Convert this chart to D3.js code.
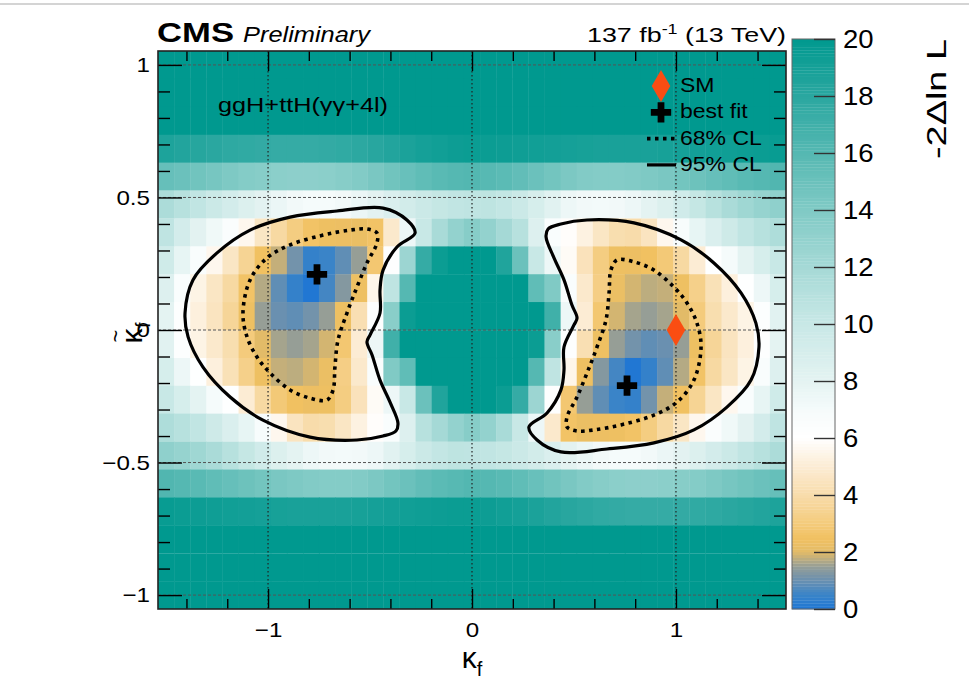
<!DOCTYPE html>
<html>
<head>
<meta charset="utf-8">
<script src="https://cdn.jsdelivr.net/npm/d3@7"></script>
<style>
  body { margin: 0; background: #fff; }
  text { font-family: "Liberation Sans", Arial, Helvetica, sans-serif; fill: #000; }
</style>
</head>
<body>
<div id="g-container"></div>
<script>
// scan grid: kappa_f (columns) and kappa_f tilde (rows, top to bottom)
var kappaF = [-1.5, -1.421, -1.342, -1.263, -1.184, -1.105, -1.026, -0.947, -0.868, -0.789,
  -0.711, -0.632, -0.553, -0.474, -0.395, -0.316, -0.237, -0.158, -0.079, 0,
  0.079, 0.158, 0.237, 0.316, 0.395, 0.474, 0.553, 0.632, 0.711, 0.789,
  0.868, 0.947, 1.026, 1.105, 1.184, 1.263, 1.342, 1.421, 1.5];
var kappaFt = [1, 0.895, 0.789, 0.684, 0.579, 0.474, 0.368, 0.263, 0.158, 0.053,
  -0.053, -0.158, -0.263, -0.368, -0.474, -0.579, -0.684, -0.789, -0.895, -1];

// -2 Delta ln L, one row per kappaFt value
var nll = [
  [26,25.5,25,24.8,24.6,24.5,24.4,24.4,24.5,24.6,24.8,25,25.3,25.6,26,26.3,26.6,26.8,27,27.1,27.7,27.7,27.6,27.5,27.4,27.3,27.2,27.1,27,26.9,26.8,26.7,26.7,26.8,26.9,27,27.1,27.3,27.5],
  [23,22.6,22.3,22,21.8,21.6,21.5,21.5,21.6,21.7,21.9,22.1,22.4,22.7,23,23.3,23.6,23.8,24,24.1,24.6,24.6,24.5,24.4,24.3,24.2,24.1,24,23.9,23.8,23.7,23.7,23.7,23.8,23.9,24,24.1,24.3,24.5],
  [21.2,21,20.9,20.8,20.7,20.6,20.5,20.5,20.6,20.7,20.8,20.9,21.1,21.3,21.5,21.7,21.8,21.9,22,21.9,22,22,21.9,21.8,21.7,21.6,21.5,21.4,21.3,21.2,21.2,21.2,21.2,21.3,21.4,21.5,21.6,21.8,22],
  [18.6,18.4,18.2,18,17.8,17.7,17.6,17.5,17.5,17.5,17.6,17.7,17.9,18.1,18.4,18.7,19,19.2,19.4,19.5,19.5,19.4,19.3,19.2,19.1,19,18.9,18.8,18.8,18.8,18.8,18.9,19,19.1,19.2,19.3,19.4,19.5,19.6],
  [15.2,15,14.7,14.4,14.1,13.8,13.6,13.4,13.3,13.3,13.4,13.6,13.9,14.3,14.7,15.1,15.5,15.8,16,16.1,15.9,15.7,15.4,15,14.6,14.2,13.9,13.8,13.8,13.9,14.1,14.3,14.6,14.9,15.2,15.5,15.8,16,16.2],
  [11.6,11,10.4,9.8,9.2,8.6,8.1,7.6,7.2,7,7,7.2,7.6,8.1,8.7,9.3,9.8,10.2,10.4,10.5,10.6,10.3,9.8,9,8.2,7.5,7.2,7.1,7.2,7.5,8,8.6,9.4,10.2,11,11.7,12.3,12.8,13.2],
  [10.5,9.2,8.1,7.3,6.5,5.6,4.6,3.8,3.1,2.6,2.4,2.35,2.3,2.6,4.8,7.5,10,11.8,13,13.6,13,12,11,8.5,6.6,5.9,5.3,4.6,4.1,4,4.5,5.6,6.8,7.8,8.7,9.6,10.4,11,11.5],
  [9.5,7.8,6.6,5.6,4.6,3.5,2.5,1.8,1.1,0.4,0.5,0.9,1.5,2.8,6.2,12.5,17.5,19.5,21,21.5,21,18.5,15,10,7.5,5.8,4.4,3.1,2.4,2.35,2.5,2.9,3.8,5,6.1,7,8,9,10],
  [8.5,6.6,5.4,4.6,3.8,2.6,1.7,0.9,0.4,0.05,0.6,1.3,2.4,5.5,10.5,16,20,21.5,23,23.5,23.5,22.5,20.5,15.5,14,6.6,4.8,3.2,2.3,1.9,1.75,1.8,2.4,3.3,4.3,5.2,6.1,7.5,9],
  [8,6.2,5.2,4.5,3.6,2.4,1.5,1,0.9,1.1,1.5,2.4,4.2,6.2,13.5,19.5,22,23.5,24.5,25,25,24.5,23.5,21,17,7.5,5,2.8,1.9,1.6,1.5,1.6,2,3,4.1,4.8,5.4,6.3,8.2],
  [8.2,6.3,5.4,4.8,4.1,3,2,1.6,1.5,1.6,1.9,2.8,5,7.5,17,21,23.5,24.5,25,25,24.5,23.5,22,19.5,13.5,6.2,4.2,2.4,1.5,1.1,0.9,1,1.5,2.4,3.6,4.5,5.2,6.2,8],
  [9,7.5,6.1,5.2,4.3,3.3,2.4,1.8,1.75,1.9,2.3,3.2,4.8,6.6,14,15.5,20.5,22.5,23.5,23.5,23,21.5,20,16,10.5,5.5,2.4,1.3,0.6,0.05,0.4,0.9,1.7,2.6,3.8,4.6,5.4,6.6,8.5],
  [10,9,8,7,6.1,5,3.8,2.9,2.5,2.35,2.4,3.1,4.4,5.8,7.5,10,15,18.5,21,21.5,21,19.5,17.5,12.5,6.2,2.8,1.5,0.9,0.5,0.4,1.1,1.8,2.5,3.5,4.6,5.6,6.6,7.8,9.5],
  [11.5,11,10.4,9.6,8.7,7.8,6.8,5.6,4.5,4,4.1,4.6,5.3,5.9,6.6,8.5,11,12,13,13.6,13,11.8,10,7.5,4.8,2.6,2.3,2.35,2.4,2.6,3.1,3.8,4.6,5.6,6.5,7.3,8.1,9.2,10.5],
  [13.2,12.8,12.3,11.7,11,10.2,9.4,8.6,8,7.5,7.2,7.1,7.2,7.5,8.2,9,9.8,10.3,10.6,10.5,10.4,10.2,9.8,9.3,8.7,8.1,7.6,7.2,7,7,7.2,7.6,8.1,8.6,9.2,9.8,10.4,11,11.6],
  [16.2,16,15.8,15.5,15.2,14.9,14.6,14.3,14.1,13.9,13.8,13.8,13.9,14.2,14.6,15,15.4,15.7,15.9,16.1,16,15.8,15.5,15.1,14.7,14.3,13.9,13.6,13.4,13.3,13.3,13.4,13.6,13.8,14.1,14.4,14.7,15,15.2],
  [19.6,19.5,19.4,19.3,19.2,19.1,19,18.9,18.8,18.8,18.8,18.8,18.9,19,19.1,19.2,19.3,19.4,19.5,19.5,19.4,19.2,19,18.7,18.4,18.1,17.9,17.7,17.6,17.5,17.5,17.5,17.6,17.7,17.8,18,18.2,18.4,18.6],
  [22,21.8,21.6,21.5,21.4,21.3,21.2,21.2,21.2,21.2,21.3,21.4,21.5,21.6,21.7,21.8,21.9,22,22,21.9,22,21.9,21.8,21.7,21.5,21.3,21.1,20.9,20.8,20.7,20.6,20.5,20.5,20.6,20.7,20.8,20.9,21,21.2],
  [24.5,24.3,24.1,24,23.9,23.8,23.7,23.7,23.7,23.8,23.9,24,24.1,24.2,24.3,24.4,24.5,24.6,24.6,24.1,24,23.8,23.6,23.3,23,22.7,22.4,22.1,21.9,21.7,21.6,21.5,21.5,21.6,21.8,22,22.3,22.6,23],
  [27.5,27.3,27.1,27,26.9,26.8,26.7,26.7,26.8,26.9,27,27.1,27.2,27.3,27.4,27.5,27.6,27.7,27.7,27.1,27,26.8,26.6,26.3,26,25.6,25.3,25,24.8,24.6,24.5,24.4,24.4,24.5,24.6,24.8,25,25.5,26]
];

// contours, [kappa_f, kappa_f tilde]
var cl95Left = [[-0.279,0.366],[-0.368,0.313],[-0.436,0.226],[-0.451,0.151],[-0.451,0.064],[-0.5,-0.019],
  [-0.515,-0.045],[-0.49,-0.094],[-0.451,-0.189],[-0.402,-0.272],[-0.363,-0.351],[-0.373,-0.381],
  [-0.436,-0.4],[-0.564,-0.415],[-0.794,-0.404],[-1.025,-0.34],[-1.186,-0.253],[-1.319,-0.14],
  [-1.392,-0.026],[-1.407,0.064],[-1.368,0.189],[-1.25,0.291],[-1.088,0.377],[-0.892,0.426],
  [-0.662,0.449],[-0.436,0.46],[-0.319,0.415]];
var cl95Right = [[0.279,-0.366],[0.368,-0.313],[0.436,-0.226],[0.451,-0.151],[0.451,-0.064],[0.5,0.019],
  [0.515,0.045],[0.49,0.094],[0.451,0.189],[0.402,0.272],[0.363,0.351],[0.373,0.381],
  [0.436,0.4],[0.564,0.415],[0.794,0.404],[1.025,0.34],[1.186,0.253],[1.319,0.14],
  [1.392,0.026],[1.407,-0.064],[1.368,-0.189],[1.25,-0.291],[1.088,-0.377],[0.892,-0.426],
  [0.662,-0.449],[0.436,-0.46],[0.319,-0.415]];
var cl68Left = [[-0.598,0.377],[-0.73,0.358],[-0.892,0.321],[-1.005,0.272],[-1.088,0.189],[-1.123,0.064],
  [-1.103,-0.026],[-1.054,-0.102],[-0.99,-0.162],[-0.892,-0.226],[-0.794,-0.257],[-0.711,-0.264],
  [-0.681,-0.226],[-0.672,-0.14],[-0.657,-0.038],[-0.613,0.064],[-0.564,0.162],[-0.515,0.253],
  [-0.466,0.328],[-0.466,0.366],[-0.515,0.381]];
var cl68Right = [[0.598,-0.377],[0.73,-0.358],[0.892,-0.321],[1.005,-0.272],[1.088,-0.189],[1.123,-0.064],
  [1.103,0.026],[1.054,0.102],[0.99,0.162],[0.892,0.226],[0.794,0.257],[0.711,0.264],
  [0.681,0.226],[0.672,0.14],[0.657,0.038],[0.613,-0.064],[0.564,-0.162],[0.515,-0.253],
  [0.466,-0.328],[0.466,-0.366],[0.515,-0.381]];
var bestFit = [[-0.76, 0.21], [0.76, -0.21]];
var smPoint = [1, 0];

// axis ticks
var xTicksMajor = [-1, 0, 1];
var xTicksMinor = [-1.4, -1.2, -0.8, -0.6, -0.4, -0.2, 0.2, 0.4, 0.6, 0.8, 1.2, 1.4];
var yTicksMajor = [-1, -0.5, 0, 0.5, 1];
var yTicksMinor = [-0.9, -0.8, -0.7, -0.6, -0.4, -0.3, -0.2, -0.1, 0.1, 0.2, 0.3, 0.4, 0.6, 0.7, 0.8, 0.9];
var zTicks = [0, 2, 4, 6, 8, 10, 12, 14, 16, 18, 20];
var legendLabels = ["SM", "best fit", "68% CL", "95% CL"];

// colour palette (blue - grey - gold - white - teal)
var palStops = [0, 0.5, 1, 1.5, 2, 2.5, 3, 4, 5, 6, 7, 8, 10, 12, 14, 16, 18, 20];
var palColors = ["#1e76d4", "#3a84c8", "#6a90b0", "#969e96", "#e2bb68", "#f1c161", "#f4cb7c", "#f8dcab",
  "#fcecd4", "#ffffff", "#f5fbfb", "#e4f3f2", "#c8e8e6", "#a5d9d6", "#80cac5", "#55b8b2", "#2aa7a0", "#00998f"];

var W = 969, H = 695;
var frame = {left: 158, right: 786, top: 51, bottom: 609};
var svg = d3.select("#g-container").append("svg").attr("width", W).attr("height", H);

var dx = kappaF[1] - kappaF[0];
var dy = kappaFt[0] - kappaFt[1];
var x = d3.scaleLinear().domain([kappaF[0] - dx / 2, kappaF[kappaF.length - 1] + dx / 2]).range([frame.left, frame.right]);
var y = d3.scaleLinear().domain([kappaFt[kappaFt.length - 1] - dy / 2, kappaFt[0] + dy / 2]).range([frame.bottom, frame.top]);
var color = d3.scaleLinear().domain(palStops).range(palColors).clamp(true);

function stretch(sel, f) {
  sel.each(function() {
    var w = this.getComputedTextLength();
    d3.select(this).attr("textLength", w * f).attr("lengthAdjust", "spacingAndGlyphs");
  });
}

svg.append("line").attr("x1", 0).attr("x2", W).attr("y1", 4).attr("y2", 4)
  .attr("stroke", "#d4d4d4").attr("stroke-width", 2);

svg.append("clipPath").attr("id", "plot-clip").append("rect")
  .attr("x", frame.left).attr("y", frame.top)
  .attr("width", frame.right - frame.left).attr("height", frame.bottom - frame.top);

var plot = svg.append("g").attr("clip-path", "url(#plot-clip)");

// heatmap cells
var cells = [];
nll.forEach(function(row, j) {
  row.forEach(function(v, i) { cells.push({k: kappaF[i], kt: kappaFt[j], v: v}); });
});
plot.selectAll("rect.cell").data(cells).enter().append("rect")
  .attr("class", "cell")
  .attr("x", function(d) { return x(d.k - dx / 2); })
  .attr("y", function(d) { return y(d.kt + dy / 2); })
  .attr("width", x(dx) - x(0) + 0.4)
  .attr("height", y(0) - y(dy) + 0.4)
  .attr("fill", function(d) { return color(d.v); });

// dotted grid
plot.selectAll("line.gx").data(xTicksMajor).enter().append("line")
  .attr("x1", x).attr("x2", x).attr("y1", frame.top).attr("y2", frame.bottom)
  .attr("stroke", "#222").attr("stroke-width", 1.2).attr("stroke-dasharray", "1.5,2.5");
plot.selectAll("line.gy").data(yTicksMajor).enter().append("line")
  .attr("x1", frame.left).attr("x2", frame.right).attr("y1", y).attr("y2", y)
  .attr("stroke", "#555").attr("stroke-width", 1).attr("stroke-dasharray", "3,2");

// contours
var line = d3.line().x(function(d) { return x(d[0]); }).y(function(d) { return y(d[1]); })
  .curve(d3.curveCatmullRomClosed.alpha(0.5));
[cl95Left, cl95Right].forEach(function(c) {
  plot.append("path").attr("d", line(c)).attr("fill", "none").attr("stroke", "#000").attr("stroke-width", 3.2);
});
[cl68Left, cl68Right].forEach(function(c) {
  plot.append("path").attr("d", line(c)).attr("fill", "none").attr("stroke", "#000")
    .attr("stroke-width", 3.6).attr("stroke-dasharray", "3.5,4.5");
});

// best fit + SM
var crossSym = d3.symbol().type(d3.symbolCross).size(230);
var diamondSym = d3.symbol().type(d3.symbolDiamond).size(300);
plot.selectAll("path.bf").data(bestFit).enter().append("path")
  .attr("d", crossSym).attr("transform", function(d) { return "translate(" + x(d[0]) + "," + y(d[1]) + ")"; })
  .attr("fill", "#000");
plot.append("path").attr("d", diamondSym)
  .attr("transform", "translate(" + x(smPoint[0]) + "," + y(smPoint[1]) + ")")
  .attr("fill", "#fa4d12");

// axes with inward ticks on all four sides
function styleAxis(g) {
  g.select(".domain").remove();
  g.selectAll(".tick line").attr("stroke", "#000").attr("stroke-width", 1.4);
  g.selectAll(".tick text").style("font-size", "21px").attr("fill", "#000");
}
var fmt = function(d) { return d < 0 ? "\u2212" + Math.abs(d) : "" + d; };
svg.append("g").attr("transform", "translate(0," + frame.bottom + ")")
  .call(d3.axisBottom(x).tickValues(xTicksMinor).tickSize(-10).tickFormat("")).call(styleAxis);
svg.append("g").attr("transform", "translate(0," + frame.bottom + ")")
  .call(d3.axisBottom(x).tickValues(xTicksMajor).tickSize(-20).tickPadding(13).tickFormat(fmt)).call(styleAxis);
svg.append("g").attr("transform", "translate(0," + frame.top + ")")
  .call(d3.axisTop(x).tickValues(xTicksMinor).tickSize(-10).tickFormat("")).call(styleAxis);
svg.append("g").attr("transform", "translate(0," + frame.top + ")")
  .call(d3.axisTop(x).tickValues(xTicksMajor).tickSize(-20).tickFormat("")).call(styleAxis);
svg.append("g").attr("transform", "translate(" + frame.left + ",0)")
  .call(d3.axisLeft(y).tickValues(yTicksMinor).tickSize(-12).tickFormat("")).call(styleAxis);
svg.append("g").attr("transform", "translate(" + frame.left + ",0)")
  .call(d3.axisLeft(y).tickValues(yTicksMajor).tickSize(-24).tickPadding(8).tickFormat(fmt)).call(styleAxis);
svg.append("g").attr("transform", "translate(" + frame.right + ",0)")
  .call(d3.axisRight(y).tickValues(yTicksMinor).tickSize(-12).tickFormat("")).call(styleAxis);
svg.append("g").attr("transform", "translate(" + frame.right + ",0)")
  .call(d3.axisRight(y).tickValues(yTicksMajor).tickSize(-24).tickFormat("")).call(styleAxis);
stretch(svg.selectAll(".tick text"), 1.15);

svg.append("rect").attr("x", frame.left).attr("y", frame.top)
  .attr("width", frame.right - frame.left).attr("height", frame.bottom - frame.top)
  .attr("fill", "none").attr("stroke", "#222").attr("stroke-width", 1.6);

// colour bar
var cb = {left: 792, right: 835};
var z = d3.scaleLinear().domain([0, 20]).range([609, 39]);
var cbSteps = d3.range(0, 20, 0.1);
svg.selectAll("rect.cb").data(cbSteps).enter().append("rect")
  .attr("x", cb.left).attr("width", cb.right - cb.left)
  .attr("y", function(d) { return z(d + 0.1); })
  .attr("height", z(0) - z(0.1) + 0.3)
  .attr("fill", function(d) { return color(d + 0.05); });
svg.append("rect").attr("x", cb.left).attr("y", z(20)).attr("width", cb.right - cb.left)
  .attr("height", z(0) - z(20)).attr("fill", "none").attr("stroke", "#666").attr("stroke-width", 1);
var zAxis = svg.append("g").attr("transform", "translate(" + cb.right + ",0)")
  .call(d3.axisRight(z).tickValues(zTicks).tickSize(-21).tickPadding(8));
zAxis.select(".domain").remove();
zAxis.selectAll(".tick line").attr("stroke", "#333").attr("stroke-width", 1.4);
zAxis.selectAll(".tick text").style("font-size", "25px").attr("fill", "#000");
stretch(zAxis.selectAll(".tick text"), 1.1);

var zTitle = svg.append("text").attr("transform", "translate(946,39) rotate(-90)")
  .attr("text-anchor", "end").style("font-size", "28px").text("-2\u0394ln L");
zTitle.attr("textLength", 120).attr("lengthAdjust", "spacingAndGlyphs");

// axis titles
var xt = svg.append("text").attr("x", 472).attr("y", 668).attr("text-anchor", "middle").style("font-size", "30px");
xt.append("tspan").text("\u03ba");
xt.append("tspan").attr("dy", 8).style("font-size", "20px").text("f");
var yt = svg.append("g").attr("transform", "translate(142,336) rotate(-90)");
yt.append("text").attr("x", 0).attr("y", 0).attr("text-anchor", "middle").style("font-size", "30px").text("\u03ba");
yt.append("text").attr("x", 0).attr("y", -19).attr("text-anchor", "middle").style("font-size", "22px").text("~");
yt.append("text").attr("x", 8).attr("y", 8).style("font-size", "20px").text("f");

// header
var cms = svg.append("text").attr("x", 157).attr("y", 42).style("font-size", "28px").style("font-weight", "bold").text("CMS");
cms.attr("textLength", 77).attr("lengthAdjust", "spacingAndGlyphs");
svg.append("text").attr("x", 243).attr("y", 42).style("font-size", "22px").style("font-style", "italic")
  .text("Preliminary").attr("textLength", 127).attr("lengthAdjust", "spacingAndGlyphs");
var lumi = svg.append("text").attr("x", 786).attr("y", 42).attr("text-anchor", "end").style("font-size", "21px");
lumi.append("tspan").text("137 fb");
lumi.append("tspan").attr("dy", -8).style("font-size", "14px").text("-1");
lumi.append("tspan").attr("dy", 8).text(" (13 TeV)");
lumi.attr("textLength", 199).attr("lengthAdjust", "spacingAndGlyphs");

svg.append("text").attr("x", 218).attr("y", 112).style("font-size", "20px")
  .text("ggH+ttH(\u03b3\u03b3+4l)").attr("textLength", 170).attr("lengthAdjust", "spacingAndGlyphs");

// legend
var leg = svg.append("g");
var legY = function(i) { return 86 + i * 26.3; };
leg.selectAll("text").data(legendLabels).enter().append("text")
  .attr("x", 680).attr("y", function(d, i) { return legY(i) + 6; })
  .style("font-size", "20px").text(function(d) { return d; });
stretch(leg.selectAll("text"), 1.15);
leg.append("path").attr("d", diamondSym).attr("transform", "translate(661," + legY(0) + ")").attr("fill", "#fa4d12");
leg.append("path").attr("d", crossSym).attr("transform", "translate(661," + legY(1) + ")").attr("fill", "#000");
leg.append("line").attr("x1", 647).attr("x2", 676).attr("y1", legY(2)).attr("y2", legY(2))
  .attr("stroke", "#000").attr("stroke-width", 3.6).attr("stroke-dasharray", "3.5,4.5");
leg.append("line").attr("x1", 647).attr("x2", 676).attr("y1", legY(3)).attr("y2", legY(3))
  .attr("stroke", "#000").attr("stroke-width", 3.2);
</script>
</body>
</html>
